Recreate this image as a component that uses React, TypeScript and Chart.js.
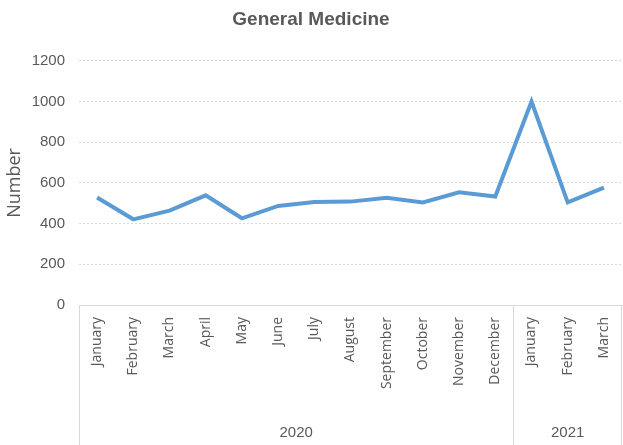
import React, { useEffect, useRef } from "react";
import { Chart, registerables } from "chart.js";

Chart.register(...registerables);

const months = [
  "January", "February", "March", "April", "May", "June", "July", "August",
  "September", "October", "November", "December", "January", "February", "March",
];
const years = ["2020", "2021"];
const yearCounts = [12, 3];
const values = [528, 421, 464, 539, 426, 487, 506, 508, 527, 504, 554, 533, 1000, 504, 577];
const yTicks = [0, 200, 400, 600, 800, 1000, 1200];

const groupPlugin = {
  id: "yearGroups",
  afterDraw(chart: any) {
    const { ctx, chartArea } = chart;
    const bottom = chart.height;
    const step = (chartArea.right - chartArea.left) / months.length;
    ctx.save();
    ctx.strokeStyle = "#d9d9d9";
    ctx.lineWidth = 1;
    let start = 0;
    const bounds: number[] = [0];
    yearCounts.forEach((c) => {
      start += c;
      bounds.push(start);
    });
    bounds.forEach((b) => {
      let x = Math.round(chartArea.left + b * step) + 0.5;
      if (x > chart.width - 1) x = chart.width - 1.5;
      ctx.beginPath();
      ctx.moveTo(x, chartArea.bottom);
      ctx.lineTo(x, bottom);
      ctx.stroke();
    });
    ctx.fillStyle = "#595959";
    ctx.font = "15px 'Liberation Sans', sans-serif";
    ctx.textAlign = "center";
    ctx.textBaseline = "middle";
    years.forEach((y, i) => {
      const x0 = chartArea.left + bounds[i] * step;
      const x1 = chartArea.left + bounds[i + 1] * step;
      ctx.fillText(y, (x0 + x1) / 2, 433);
    });
    ctx.restore();
  },
};

export default function App() {
  const ref = useRef<HTMLCanvasElement>(null);
  useEffect(() => {
    document.body.style.margin = "0";
    const chart = new Chart(ref.current!, {
      type: "line",
      data: {
        labels: months,
        datasets: [
          {
            data: values,
            borderColor: "#5b9bd5",
            borderWidth: 4,
            pointRadius: 0,
            tension: 0,
            fill: false,
          },
        ],
      },
      options: {
        animation: false,
        responsive: false,
        layout: { padding: { left: 0, right: 1, top: 0, bottom: 0 } },
        plugins: {
          legend: { display: false },
          tooltip: { enabled: false },
          title: {
            display: true,
            text: "General Medicine",
            color: "#595959",
            font: { family: "'Liberation Sans', sans-serif", size: 19, weight: "bold" },
            padding: { top: 8, bottom: 30 },
          },
        },
        scales: {
          x: {
            offset: true,
            grid: { display: false, drawTicks: false },
            border: { display: true, color: "#d9d9d9" },
            ticks: {
              color: "#595959",
              font: { family: "'Open Sans', sans-serif", size: 14 },
              minRotation: 90,
              maxRotation: 90,
              autoSkip: false,
              padding: 12,
            },
            afterFit(scale: any) {
              scale.height = 140;
              scale.paddingLeft = 0;
              scale.paddingRight = 0;
            },
          },
          y: {
            min: 0,
            max: 1200,
            afterBuildTicks(scale: any) {
              scale.ticks = yTicks.map((v) => ({ value: v }));
            },
            grid: {
              color: "#d9d9d9",
              drawTicks: false,
            },
            border: { display: false, dash: [2, 2] },
            ticks: {
              color: "#595959",
              font: { family: "'Liberation Sans', sans-serif", size: 15 },
              padding: 14,
              callback: (v: any) => String(v),
            },
            title: {
              display: true,
              text: "Number",
              color: "#595959",
              font: { family: "'Open Sans', sans-serif", size: 18 },
              padding: { top: 4, bottom: 4 },
            },
            afterFit(scale: any) {
              scale.width = 79;
            },
          },
        },
      },
      plugins: [groupPlugin],
    });
    return () => chart.destroy();
  }, []);
  return <canvas ref={ref} width={623} height={445} style={{ display: "block" }} />;
}
